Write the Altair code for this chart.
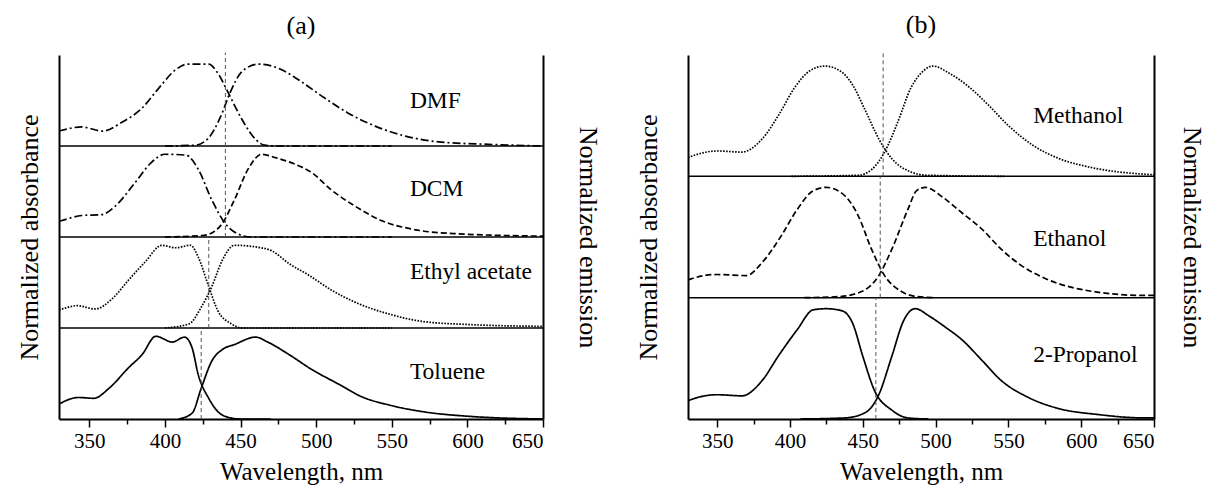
import altair as alt
import pandas as pd

FONT = "Liberation Serif"

# ---------------- panel (a) data ----------------
a_solvents = ["DMF", "DCM", "Ethyl acetate", "Toluene"]

dmf_abs_wl = [330, 332, 345, 359, 371, 385, 396, 407, 415, 429, 435, 442, 451, 460, 466, 475, 550]
dmf_abs = [0.18, 0.19, 0.23, 0.18, 0.28, 0.46, 0.70, 0.92, 0.99, 0.99, 0.88, 0.64, 0.32, 0.08, 0.01, 0.0, 0.0]
dmf_em_wl = [400, 420, 429, 437, 443, 451, 462, 475, 490, 504, 521, 539, 559, 581, 614, 650]
dmf_em = [0.0, 0.01, 0.10, 0.36, 0.64, 0.90, 0.99, 0.94, 0.78, 0.60, 0.40, 0.24, 0.12, 0.05, 0.02, 0.0]

dcm_abs_wl = [330, 332, 345, 358, 367, 380, 391, 400, 414, 422, 431, 440, 448, 457, 550]
dcm_abs = [0.19, 0.20, 0.26, 0.27, 0.37, 0.65, 0.90, 1.0, 0.99, 0.82, 0.45, 0.16, 0.04, 0.0, 0.0]
dcm_em_wl = [400, 426, 437, 446, 455, 464, 473, 486, 497, 510, 526, 543, 565, 592, 650]
dcm_em = [0.0, 0.02, 0.14, 0.45, 0.82, 1.0, 0.96, 0.88, 0.78, 0.57, 0.37, 0.20, 0.09, 0.04, 0.01]

ea_abs_wl = [330, 332, 342, 354, 365, 376, 387, 398, 407, 417, 422, 429, 435, 444, 451, 550]
ea_abs = [0.22, 0.23, 0.27, 0.23, 0.35, 0.58, 0.80, 1.0, 0.97, 1.0, 0.86, 0.50, 0.21, 0.05, 0.0, 0.0]
ea_em_wl = [400, 416, 424, 431, 438, 446, 460, 471, 482, 495, 510, 526, 548, 570, 603, 650]
ea_em = [0.0, 0.05, 0.25, 0.50, 0.82, 1.0, 0.98, 0.93, 0.78, 0.64, 0.46, 0.31, 0.17, 0.08, 0.04, 0.02]

tol_abs_wl = [330, 331, 343, 353, 363, 376, 385, 394, 405, 413, 418, 422, 429, 435, 442, 450, 470]
tol_abs = [0.18, 0.19, 0.26, 0.25, 0.37, 0.62, 0.78, 1.0, 0.93, 0.99, 0.86, 0.54, 0.25, 0.09, 0.02, 0.0, 0.0]
tol_em_wl = [409, 418, 424, 431, 438, 446, 460, 468, 482, 497, 515, 530, 548, 570, 603, 650]
tol_em = [0.0, 0.07, 0.37, 0.70, 0.84, 0.90, 0.99, 0.93, 0.78, 0.60, 0.42, 0.27, 0.17, 0.09, 0.03, 0.0]

a_abs_style = ["dashdot", "dashdot", "dot", "solid"]
a_em_style = ["dashdot", "dash", "dot", "solid"]
a_marker_wl = [440, 440, 429, 424]
a_label_y = [0.54, 0.58, 0.68, 0.57]
a_label_wl = 562

# ---------------- panel (b) data ----------------
b_solvents = ["Methanol", "Ethanol", "2-Propanol"]

meoh_abs_wl = [330, 332, 350, 367, 381, 392, 403, 414, 424, 434, 443, 452, 461, 470, 483, 494, 547]
meoh_abs = [0.17, 0.18, 0.23, 0.22, 0.34, 0.55, 0.80, 0.96, 1.0, 0.96, 0.83, 0.59, 0.34, 0.16, 0.04, 0.01, 0.0]
meoh_em_wl = [401, 447, 456, 465, 474, 483, 492, 498, 510, 523, 536, 550, 567, 585, 607, 643, 650]
meoh_em = [0.0, 0.01, 0.06, 0.22, 0.49, 0.80, 0.96, 1.0, 0.93, 0.81, 0.65, 0.46, 0.28, 0.16, 0.08, 0.02, 0.015]

etoh_abs_wl = [330, 332, 350, 370, 381, 394, 405, 416, 425, 438, 447, 456, 465, 476, 487, 500]
etoh_abs = [0.16, 0.17, 0.21, 0.20, 0.32, 0.56, 0.80, 0.97, 1.0, 0.92, 0.74, 0.44, 0.20, 0.06, 0.01, 0.0]
etoh_em_wl = [410, 434, 450, 461, 470, 481, 487, 493, 505, 518, 532, 545, 558, 576, 598, 643, 650]
etoh_em = [0.0, 0.01, 0.06, 0.20, 0.44, 0.80, 0.97, 1.0, 0.91, 0.77, 0.62, 0.44, 0.30, 0.17, 0.08, 0.02, 0.02]

prop_abs_wl = [330, 331, 350, 367, 381, 392, 405, 416, 425, 436, 443, 450, 458, 470, 481, 495]
prop_abs = [0.16, 0.17, 0.22, 0.21, 0.35, 0.57, 0.81, 0.99, 1.0, 0.98, 0.87, 0.57, 0.26, 0.08, 0.01, 0.0]
prop_em_wl = [407, 438, 452, 461, 470, 478, 486, 496, 507, 518, 532, 545, 563, 583, 612, 643, 650]
prop_em = [0.0, 0.01, 0.06, 0.22, 0.57, 0.89, 1.0, 0.93, 0.83, 0.72, 0.53, 0.35, 0.20, 0.10, 0.04, 0.01, 0.01]

b_abs_style = ["dot", "dash", "solid"]
b_em_style = ["dot", "dash", "solid"]
b_marker_wl = [464, 462, 459]
b_label_y = [0.55, 0.53, 0.58]
b_label_wl = 567

x_ticks = list(range(350, 651, 25))

STEP = 1.1


def build_panel(title, solvents, abs_curves, em_curves, abs_styles, em_styles,
                marker_wls, label_ys, label_wl, pad_left, pad_right, width, height):
    n = len(solvents)
    top = n * STEP
    rows = []
    for i, s in enumerate(solvents):
        off = (n - 1 - i) * STEP
        for kind, (wl, vals), style in (("abs", abs_curves[i], abs_styles[i]),
                                       ("em", em_curves[i], em_styles[i])):
            for w, v in zip(wl, vals):
                rows.append({"curve": f"{s}-{kind}", "wl": w, "yy": v + off, "style": style})
    df = pd.DataFrame(rows)

    div_df = pd.DataFrame({"yy": [k * STEP for k in range(1, n)]})
    mk_rows = []
    for i, s in enumerate(solvents):
        off = (n - 1 - i) * STEP
        hi = off + STEP + (0.03 if i == 0 else 0.0)
        mk_rows.append({"wl": marker_wls[i], "lo": off, "hi": hi})
    mk_df = pd.DataFrame(mk_rows)
    lab_df = pd.DataFrame({
        "wl": [label_wl] * n,
        "yy": [(n - 1 - i) * STEP + label_ys[i] for i in range(n)],
        "name": solvents,
    })

    yscale = alt.Scale(domain=[0, top], nice=False, zero=False)
    xenc = alt.X(
        "wl:Q",
        scale=alt.Scale(domain=[330, 650], nice=False, zero=False),
        axis=alt.Axis(
            title="Wavelength, nm",
            values=x_ticks,
            labelExpr="datum.value % 50 == 0 ? datum.label : ''",
            format="d",
            grid=False,
            domainWidth=2,
            tickWidth=1.5,
            tickSize={"condition": {"test": "datum.value % 50 == 0", "value": 8}, "value": 5},
            labelFont=FONT,
            labelFontSize=21,
            labelPadding=3,
            labelColor="black",
            titleFont=FONT,
            titleFontWeight="normal",
            titleColor="black",
            titleFontSize=25,
            titlePadding=8,
            domainColor="black",
            tickColor="black",
        ),
    )

    curves = alt.Chart(df).mark_line(
        interpolate="monotone", color="black", strokeWidth=1.7, clip=True
    ).encode(
        x=xenc,
        y=alt.Y("yy:Q", scale=yscale,
                axis=alt.Axis(title="Normalized absorbance", labels=False, ticks=False,
                              grid=False, domainWidth=2, domainColor="black",
                              titleFont=FONT, titleFontWeight="normal", titleColor="black",
                              titleFontSize=26, titlePadding=pad_left)),
        detail="curve:N",
        strokeDash=alt.StrokeDash(
            "style:N",
            scale=alt.Scale(domain=["solid", "dash", "dot", "dashdot"],
                            range=[[1, 0], [6, 3], [1.6, 1.4], [8, 3, 2, 3]]),
            legend=None,
        ),
    )

    dividers = alt.Chart(div_df).mark_rule(color="black", strokeWidth=1.5).encode(
        y=alt.Y("yy:Q", scale=yscale,
                axis=alt.Axis(orient="right", title="Normalized emission", labels=False,
                              ticks=False, grid=False, domainWidth=2, domainColor="black",
                              titleFont=FONT, titleFontWeight="normal", titleColor="black",
                              titleFontSize=26, titlePadding=pad_right)),
    )

    markers = alt.Chart(mk_df).mark_rule(color="#555555", strokeWidth=1, strokeDash=[4, 3]).encode(
        x=xenc,
        y=alt.Y("lo:Q", scale=yscale, axis=None),
        y2="hi:Q",
    )

    labels = alt.Chart(lab_df).mark_text(
        align="left", baseline="middle", font=FONT, fontSize=23.5, color="black"
    ).encode(
        x=xenc,
        y=alt.Y("yy:Q", scale=yscale, axis=None),
        text="name:N",
    )

    return alt.layer(curves, dividers, markers, labels).resolve_scale(
        y="independent"
    ).properties(
        width=width,
        height=height,
        title=alt.TitleParams(title, font=FONT, fontSize=26, fontWeight="normal",
                              color="black", offset=13),
    )


panel_a = build_panel(
    "(a)", a_solvents,
    [(dmf_abs_wl, dmf_abs), (dcm_abs_wl, dcm_abs), (ea_abs_wl, ea_abs), (tol_abs_wl, tol_abs)],
    [(dmf_em_wl, dmf_em), (dcm_em_wl, dcm_em), (ea_em_wl, ea_em), (tol_em_wl, tol_em)],
    a_abs_style, a_em_style, a_marker_wl, a_label_y, a_label_wl,
    pad_left=17, pad_right=31, width=484, height=364,
)

panel_b = build_panel(
    "(b)", b_solvents,
    [(meoh_abs_wl, meoh_abs), (etoh_abs_wl, etoh_abs), (prop_abs_wl, prop_abs)],
    [(meoh_em_wl, meoh_em), (etoh_em_wl, etoh_em), (prop_em_wl, prop_em)],
    b_abs_style, b_em_style, b_marker_wl, b_label_y, b_label_wl,
    pad_left=27, pad_right=24, width=466, height=364,
)

chart = alt.hconcat(panel_a, panel_b, spacing=35).configure_view(
    stroke=None
).properties(
    background="white",
    padding={"left": 8, "top": 4, "right": 5, "bottom": 5},
)

chart.save("out.html", embed_options={"renderer": "svg", "actions": False})
